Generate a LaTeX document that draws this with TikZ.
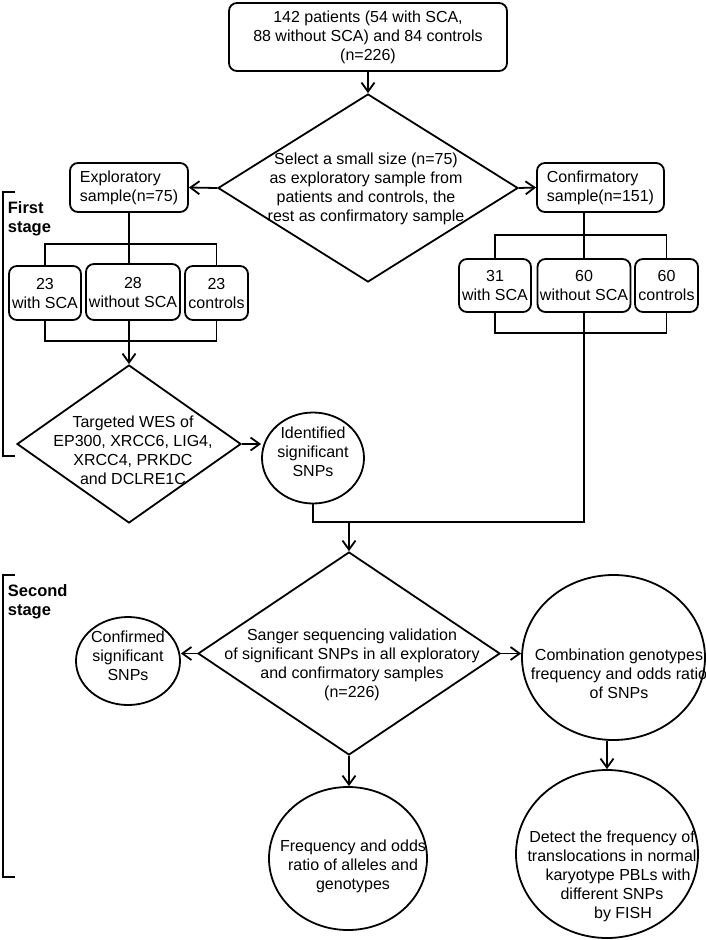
\documentclass[tikz,border=0pt]{standalone}
\usepackage{fontspec}
\setmainfont{Liberation Sans}
\usetikzlibrary{shapes.geometric,arrows.meta}
\begin{document}
\begin{tikzpicture}[x=1pt,y=-1pt,
  line width=1.8pt,
  every node/.style={font=\fontsize{16}{19}\selectfont},
  box/.style={draw, rounded corners=8pt, inner sep=0pt, align=center},
  dia/.style={draw, diamond, inner sep=0pt},
  ell/.style={draw, ellipse, inner sep=0pt},
  txt/.style={inner sep=0pt, align=center},
  arr/.style={-{Straight Barb[length=9pt,width=13pt]}},
  brk/.style={line width=2.5pt},
  stagelbl/.style={inner sep=0pt, align=left, anchor=west, font=\fontsize{16.5}{19}\selectfont\bfseries}]
\useasboundingbox (0,0) rectangle (706,940);

% top
\node[box, minimum width=278pt, minimum height=68pt] (top) at (368,37) {142 patients (54 with SCA,\\88 without SCA) and 84 controls\\(n=226)};
\node[dia, minimum width=300pt, minimum height=188pt] (d1) at (368,188) {};
\node[txt] (d1t) at (366,188.5) {Select a small size (n=75)\\as exploratory sample from\\patients and controls, the\\rest as confirmatory sample};
\node[box, minimum width=118pt, minimum height=49pt, align=left] (expl) at (129,187.5) {Exploratory\\sample(n=75)};
\node[box, minimum width=127pt, minimum height=49pt, align=left] (conf) at (600.5,187.5) {Confirmatory\\sample(n=151)};

% sub-samples
\node[box, minimum width=72pt, minimum height=54pt] (b1) at (45,293) {23\\with SCA};
\node[box, minimum width=94pt, minimum height=56pt] (b2) at (133,292) {28\\without SCA};
\node[box, minimum width=63pt, minimum height=54pt] (b3) at (216.5,293) {23\\controls};
\node[box, minimum width=72pt, minimum height=53pt] (c1) at (495,285.5) {31\\with SCA};
\node[box, minimum width=93pt, minimum height=53pt] (c2) at (584,285.5) {60\\without SCA};
\node[box, minimum width=63pt, minimum height=53pt] (c3) at (666.5,285.5) {60\\controls};

% WES
\node[dia, minimum width=224pt, minimum height=158pt] (d2) at (129,444) {};
\node[txt] (d2t) at (133,450) {Targeted WES of\\EP300, XRCC6, LIG4,\\XRCC4, PRKDC\\and DCLRE1C};
\node[ell, minimum width=102pt, minimum height=91pt] (idsnp) at (313,458) {};
\node[txt] (idsnpt) at (313,452) {Identified\\significant\\SNPs};

% second stage
\node[dia, minimum width=302pt, minimum height=203pt] (d3) at (349,653.5) {};
\node[txt] (d3t) at (352,665) {Sanger sequencing validation\\of significant SNPs in all exploratory\\and confirmatory samples\\(n=226)};
\node[ell, minimum width=104pt, minimum height=88pt] (conf2) at (128,661) {};
\node[txt] (conf2t) at (128,655.5) {Confirmed\\significant\\SNPs};
\node[ell, minimum width=183pt, minimum height=165pt] (combo) at (613.5,657.5) {};
\node[txt] (combot) at (619,673.5) {Combination genotypes\\frequency and odds ratio\\of SNPs};
\node[ell, minimum width=158pt, minimum height=143pt] (freq) at (348,858.5) {};
\node[txt] (freqt) at (353,866.5) {Frequency and odds\\ratio of alleles and\\genotypes};
\node[ell, minimum width=182pt, minimum height=168pt] (detect) at (607,854) {};
\node[txt] (detectt) at (612,876.5) {Detect the frequency of\\translocations in normal\\\hspace*{12pt}karyotype PBLs with\\different SNPs\hspace*{20pt}\\\hspace*{22pt}by FISH};

% stage labels
\node[stagelbl] (st1) at (7,218.4) {First\\stage};
\node[stagelbl] (st2) at (7,602) {Second\\stage};
\coordinate (s1a) at (15,192); \coordinate (s1b) at (3,192);
\coordinate (s1c) at (3,456); \coordinate (s1d) at (15,456);
\coordinate (s2a) at (15,575); \coordinate (s2b) at (3,575);
\coordinate (s2c) at (3,877); \coordinate (s2d) at (15,877);
\draw[brk] (s1a) -- (s1b) -- (s1c) -- (s1d);
\draw[brk] (s2a) -- (s2b) -- (s2c) -- (s2d);

% connectors
\draw[arr] (top.south) -- (d1.north);
\draw[arr] (d1.west) -- (expl.east);
\draw[arr] (d1.east) -- (conf.west);

\coordinate (lbr) at (0,244); \coordinate (lbb) at (0,341);
\draw (expl.south) -- (expl.south |- b2.north);
\draw (b1.north) -- (b1.north |- lbr) -| (b3.north);
\draw (b1.south) -- (b1.south |- lbb) -| (b3.south);
\draw[arr] (expl.south |- b2.south) -- (d2.north);
\draw[arr] (d2.east) -- (d2.east -| idsnp.west);

\coordinate (rbr) at (0,235); \coordinate (rbb) at (0,333); \coordinate (jn) at (0,522);
\draw (c2.north |- conf.south) -- (c2.north);
\draw (c1.north) -- (c1.north |- rbr) -| (c3.north);
\draw (c1.south) -- (c1.south |- rbb) -| (c3.south);
\draw (c2.south) -- (c2.south |- jn) -- (idsnp.south |- jn) -- (idsnp.south);
\draw[arr] (d3.north |- jn) -- (d3.north);

\draw[arr] (d3.west) -- (d3.west -| conf2.east);
\draw[arr] (d3.east) -- (d3.east -| combo.west);
\draw[arr] (d3.south) -- (d3.south |- freq.north);
\draw[arr] (detect.north |- combo.south) -- (detect.north);
\end{tikzpicture}
\end{document}
